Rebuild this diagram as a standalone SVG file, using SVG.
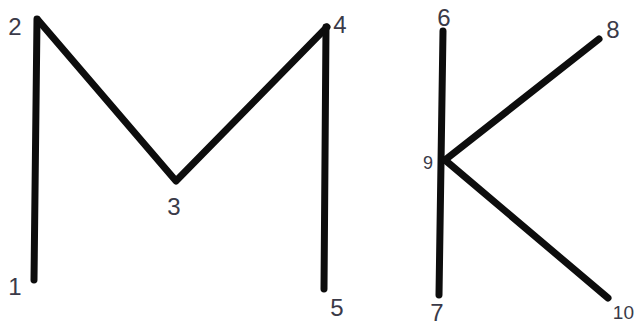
<svg xmlns="http://www.w3.org/2000/svg" width="636" height="325" viewBox="0 0 636 325">
<style>
.bg{fill:#ffffff}
.edge{fill:none;stroke:#0d0d0d;stroke-width:7;stroke-linecap:round;stroke-linejoin:round}
.lbl{font-family:"Liberation Sans","DejaVu Sans",sans-serif;font-size:24px;fill:#3a3a48;text-anchor:middle}
</style>
<rect class="bg" x="0" y="0" width="636" height="325"/>
<g id="connectors">
<line class="edge" x1="37" y1="19" x2="34" y2="280"/>
<polyline class="edge" points="38,20 176,181 327,27"/>
<line class="edge" x1="326" y1="27" x2="324" y2="289"/>
<line class="edge" x1="443" y1="31" x2="439" y2="295"/>
<line class="edge" x1="445" y1="160" x2="599" y2="39"/>
<line class="edge" x1="445" y1="160" x2="608" y2="298"/>
</g>
<g id="node1"><text class="lbl" x="15" y="295">1</text></g>
<g id="node2"><text class="lbl" x="15" y="35">2</text></g>
<g id="node3"><text class="lbl" x="174" y="215">3</text></g>
<g id="node4"><text class="lbl" x="340" y="33">4</text></g>
<g id="node5"><text class="lbl" x="337" y="316">5</text></g>
<g id="node6"><text class="lbl" x="444" y="26">6</text></g>
<g id="node7"><text class="lbl" x="437" y="321">7</text></g>
<g id="node8"><text class="lbl" x="613" y="38">8</text></g>
<g id="node9"><text class="lbl" x="428" y="169" style="font-size:18px">9</text></g>
<g id="node10"><text class="lbl" x="634" y="319" style="font-size:19px;text-anchor:end">10</text></g>
</svg>
